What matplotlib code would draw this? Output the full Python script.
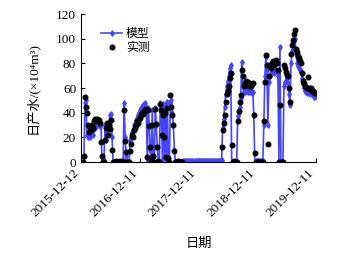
import numpy as np
import pandas as pd
import matplotlib
matplotlib.use('Agg')
import matplotlib.pyplot as plt
import matplotlib.transforms as mtransforms

plt.rcParams['font.family'] = ['Liberation Serif', 'Noto Sans CJK SC', 'DejaVu Serif']

# 日产水 (×10^4 m3)，按图上像素列读取，大约每 6 天一个点
model = [
    0, 0, 48, 50, 22, 20, 25, 20, 24, 26,
    22, 27, 28, 30, 32, 30, 31, 29, 30, 0,
    0, 2, 30, 18, 25, 28, 32, 38, 39, 20,
    0, 0, 0, 0, 0, 0, 0, 0, 0, 0,
    0, 48, 20, 5, 0, 0, 0, 18, 20, 24,
    26, 30, 32, 34, 36, 38, 40, 42, 44, 45,
    46, 47, 48, 45, 0, 44, 30, 10, 0, 42,
    5, 0, 44, 30, 12, 0, 0, 48, 45, 2,
    47, 5, 46, 2, 49, 0, 0, 48, 50, 40,
    30, 10, 0, 0, 0, 0, 0, 0, 0, 0,
    0.5, 0.5, 0.5, 0.5, 0.5, 0.5, 0.5, 0.5, 0.5, 0.5,
    0.5, 0.5, 0.5, 0.5, 0.5, 0.5, 0.5, 0.5, 0.5, 0.5,
    0.5, 0.5, 0.5, 0.5, 0.5, 0.5, 0.5, 0.5, 0.5, 0.5,
    0.5, 0.5, 0.5, 0.5, 0.5, 0.5, 0.5, 0.5,
    2, 28, 35, 45, 55, 62, 66, 70, 76, 79,
    0, 0, 0, 0, 0, 0, 37, 40, 45, 52,
    81, 62, 58, 57, 59, 58, 57, 58, 57, 58,
    56, 57, 38, 0, 0.5, 0.5, 0.5, 0.5, 0.5, 0.5,
    0.5, 0.5, 30, 70, 85, 75, 30, 65, 70, 72,
    74, 73, 72, 75, 74, 73, 70, 0, 93, 0,
    0, 0, 62, 65, 66, 68, 64, 55, 46, 80,
    90, 95, 98, 100, 88, 80, 78, 76, 75, 74,
    68, 63, 60, 58, 57, 56, 58, 56, 55, 56,
    55, 54, 53, 53,
]
nan = np.nan
measured = [
    0, 5, 53, 45, 40, 30, 24, 28, 26, 30,
    28, 33, 35, 34, 35, 33, 34, 32, 16, 5,
    0, 0, 18, 28, 32, 22, 30, 27, 34, 10,
    0, 0, 0, 1, 0, 0, 0, 1, 0, 0,
    1, 42, 17, 8, 0, 0, 0, 9, 15, 22,
    20, 26, 28, 30, 33, 32, 35, 36, 38, 40,
    39, 41, 42, 43, 4, 42, 29, 12, 1, 30,
    5, 0, 43, 31, 12, 1, 0, 47, 42, 22,
    38, 20, 40, 4, 44, 3, 0, 54, 45, 38,
    30, 9, 0, 0, 0, 1, 0, 0, 0, 0,
    nan, nan, nan, nan, nan, nan, nan, nan, nan, nan,
    nan, nan, nan, nan, nan, nan, nan, nan, nan, nan,
    nan, nan, nan, nan, nan, nan, nan, nan, nan, nan,
    nan, nan, nan, nan, nan, nan, nan, nan,
    12, 26, 32, 38, 49, 55, 58, 62, 68, 72,
    14, 0, 1, 0, 0, 0, 33, 41, 49, 54,
    75, 70, 62, 64, 66, 63, 65, 62, 63, 62,
    63, 64, 38, 7, 0, 0, 0, 0, 0, 0,
    0, 0, 33, 65, 87, 79, 15, 70, 79, 76,
    80, 82, 79, 81, 83, 80, 75, 0, 46, 0,
    0, 0, 79, 76, 73, 71, 70, 60, 49, 88,
    95, 99, 104, 107, 92, 89, 86, 84, 82, 80,
    72, 66, 64, 62, 61, 60, 69, 60, 59, 60,
    58, 58, 57, 56,
]

tick_dates = ['2015-12-12', '2016-12-11', '2017-12-11', '2018-12-11', '2019-12-11']

dates = pd.date_range('2015-12-24', '2019-12-05', periods=len(model))

fig = plt.figure(figsize=(3.6, 2.56), dpi=100)
ax = fig.add_axes([0.225, 0.367, 0.653, 0.578])

ax.plot(dates, model, '-', color='#4444ff', lw=1.2, marker='d', ms=2.8,
        mec='#4444ff', mfc='#4444ff', label='模型', zorder=2)
ax.plot(dates, measured, linestyle='none', marker='o', ms=3.3, color='black',
        label='实测', zorder=3)

ticks = pd.to_datetime(tick_dates)
ax.set_xlim(ticks[0], ticks[-1])
ax.set_xticks(ticks)
ax.set_xticklabels(tick_dates, rotation=45, ha='right', fontsize=9.5)
# 日期标签整体往右下挪一点
offset = mtransforms.ScaledTranslation(6 / 100, -6 / 100, fig.dpi_scale_trans)
for lab in ax.get_xticklabels():
    lab.set_transform(lab.get_transform() + offset)
ax.set_ylim(0, 120)
ax.set_yticks(np.arange(0, 121, 20))
ax.tick_params(axis='y', labelsize=9.5)
ax.tick_params(direction='in', length=3, width=0.8)

ax.spines['top'].set_visible(False)
ax.spines['right'].set_visible(False)

ax.set_ylabel('日产水/(×10⁴m³)', fontsize=9.5)
ax.yaxis.set_label_coords(-0.175, 0.5)
ax.set_xlabel('日期', fontsize=9.5)
ax.xaxis.set_label_coords(0.5, -0.51)

ax.legend(loc='upper left', bbox_to_anchor=(0.05, 0.96), frameon=False,
          fontsize=8.5, handlelength=1.8, handletextpad=0.3, labelspacing=0.15,
          borderpad=0.2)

fig.savefig('out.png', dpi=100)
